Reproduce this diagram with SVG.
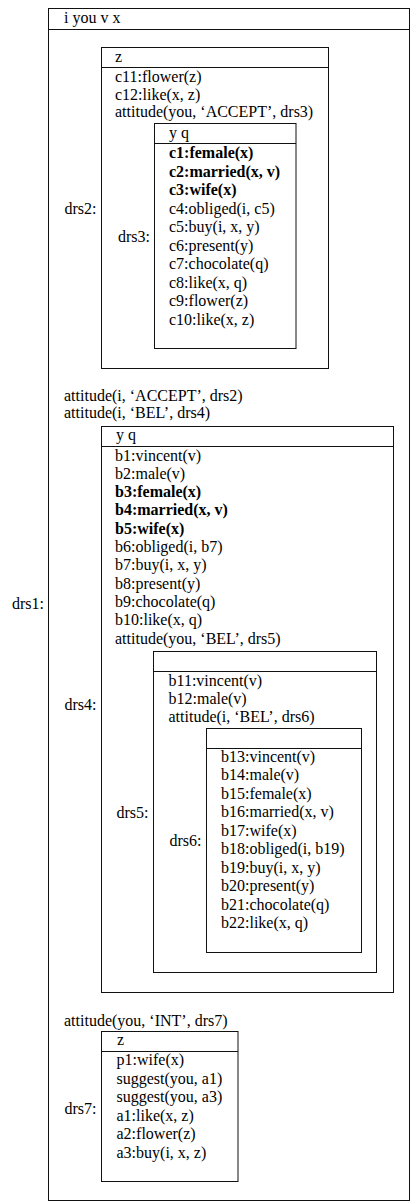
<svg xmlns="http://www.w3.org/2000/svg" width="414" height="1202" viewBox="0 0 414 1202">
<style>
.box{fill:none;stroke:#111;stroke-width:1}
.t{font-family:"Liberation Serif","Times New Roman",serif;font-size:16px;fill:#000}
.b{font-weight:bold}
.lbl{text-anchor:end}
</style>
<rect width="414" height="1202" fill="#fff"/>
<g id="drs1">
<rect class="box" x="48.5" y="8.5" width="361" height="1192"/>
<line class="box" x1="48.5" y1="29.5" x2="409.5" y2="29.5"/>
<text class="t" x="64" y="22.5">i you v x</text>
<text class="t lbl" x="44" y="609">drs1:</text>
<text class="t" x="64" y="401">attitude(i, ‘ACCEPT’, drs2)</text>
<text class="t" x="64" y="418">attitude(i, ‘BEL’, drs4)</text>
<text class="t" x="64" y="1026">attitude(you, ‘INT’, drs7)</text>
</g>
<g id="drs2">
<rect class="box" x="101.5" y="47.5" width="227" height="321"/>
<line class="box" x1="101.5" y1="67.5" x2="328.5" y2="67.5"/>
<text class="t" x="115" y="61.5">z</text>
<text class="t lbl" x="96.5" y="214">drs2:</text>
<text class="t" x="115" y="82">c11:flower(z)</text>
<text class="t" x="115" y="99.5">c12:like(x, z)</text>
<text class="t" x="115" y="117">attitude(you, ‘ACCEPT’, drs3)</text>
</g>
<g id="drs3">
<rect class="box" x="154.5" y="123.5" width="141.5" height="225"/>
<line class="box" x1="154.5" y1="143.5" x2="296" y2="143.5"/>
<text class="t" x="169" y="137.5">y q</text>
<text class="t lbl" x="150" y="242">drs3:</text>
<text class="t b" x="169" y="158">c1:female(x)</text>
<text class="t b" x="169" y="176.5">c2:married(x, v)</text>
<text class="t b" x="169" y="195">c3:wife(x)</text>
<text class="t" x="169" y="213.5">c4:obliged(i, c5)</text>
<text class="t" x="169" y="232">c5:buy(i, x, y)</text>
<text class="t" x="169" y="250.5">c6:present(y)</text>
<text class="t" x="169" y="269">c7:chocolate(q)</text>
<text class="t" x="169" y="287.5">c8:like(x, q)</text>
<text class="t" x="169" y="306">c9:flower(z)</text>
<text class="t" x="169" y="324.5">c10:like(x, z)</text>
</g>
<g id="drs4">
<rect class="box" x="101.5" y="426.5" width="292" height="566"/>
<line class="box" x1="101.5" y1="446.5" x2="393.5" y2="446.5"/>
<text class="t" x="116" y="440">y q</text>
<text class="t lbl" x="96.5" y="710">drs4:</text>
<text class="t" x="115" y="460.5">b1:vincent(v)</text>
<text class="t" x="115" y="478.8">b2:male(v)</text>
<text class="t b" x="115" y="497.1">b3:female(x)</text>
<text class="t b" x="115" y="515.4">b4:married(x, v)</text>
<text class="t b" x="115" y="533.7">b5:wife(x)</text>
<text class="t" x="115" y="552">b6:obliged(i, b7)</text>
<text class="t" x="115" y="570.3">b7:buy(i, x, y)</text>
<text class="t" x="115" y="588.6">b8:present(y)</text>
<text class="t" x="115" y="606.9">b9:chocolate(q)</text>
<text class="t" x="115" y="625.2">b10:like(x, q)</text>
<text class="t" x="115" y="643.5">attitude(you, ‘BEL’, drs5)</text>
</g>
<g id="drs5">
<rect class="box" x="153.5" y="651.5" width="223" height="321"/>
<line class="box" x1="153.5" y1="671.5" x2="376.5" y2="671.5"/>
<text class="t lbl" x="148.5" y="818">drs5:</text>
<text class="t" x="168.5" y="685.5">b11:vincent(v)</text>
<text class="t" x="168.5" y="704">b12:male(v)</text>
<text class="t" x="168.5" y="721.5">attitude(i, ‘BEL’, drs6)</text>
</g>
<g id="drs6">
<rect class="box" x="206.5" y="728.5" width="155" height="224"/>
<line class="box" x1="206.5" y1="748.5" x2="361.5" y2="748.5"/>
<text class="t lbl" x="201.5" y="846">drs6:</text>
<text class="t" x="221" y="762">b13:vincent(v)</text>
<text class="t" x="221" y="780.4">b14:male(v)</text>
<text class="t" x="221" y="798.9">b15:female(x)</text>
<text class="t" x="221" y="817.3">b16:married(x, v)</text>
<text class="t" x="221" y="835.8">b17:wife(x)</text>
<text class="t" x="221" y="854.2">b18:obliged(i, b19)</text>
<text class="t" x="221" y="872.6">b19:buy(i, x, y)</text>
<text class="t" x="221" y="891.1">b20:present(y)</text>
<text class="t" x="221" y="909.5">b21:chocolate(q)</text>
<text class="t" x="221" y="928">b22:like(x, q)</text>
</g>
<g id="drs7">
<rect class="box" x="101.5" y="1031.5" width="136.5" height="150"/>
<line class="box" x1="101.5" y1="1051.5" x2="238" y2="1051.5"/>
<text class="t" x="117" y="1045">z</text>
<text class="t lbl" x="96.5" y="1113.5">drs7:</text>
<text class="t" x="116.5" y="1065.2">p1:wife(x)</text>
<text class="t" x="116.5" y="1083.7">suggest(you, a1)</text>
<text class="t" x="116.5" y="1102.2">suggest(you, a3)</text>
<text class="t" x="116.5" y="1120.7">a1:like(x, z)</text>
<text class="t" x="116.5" y="1139.2">a2:flower(z)</text>
<text class="t" x="116.5" y="1157.7">a3:buy(i, x, z)</text>
</g>
<g id="connectors"/>
</svg>
